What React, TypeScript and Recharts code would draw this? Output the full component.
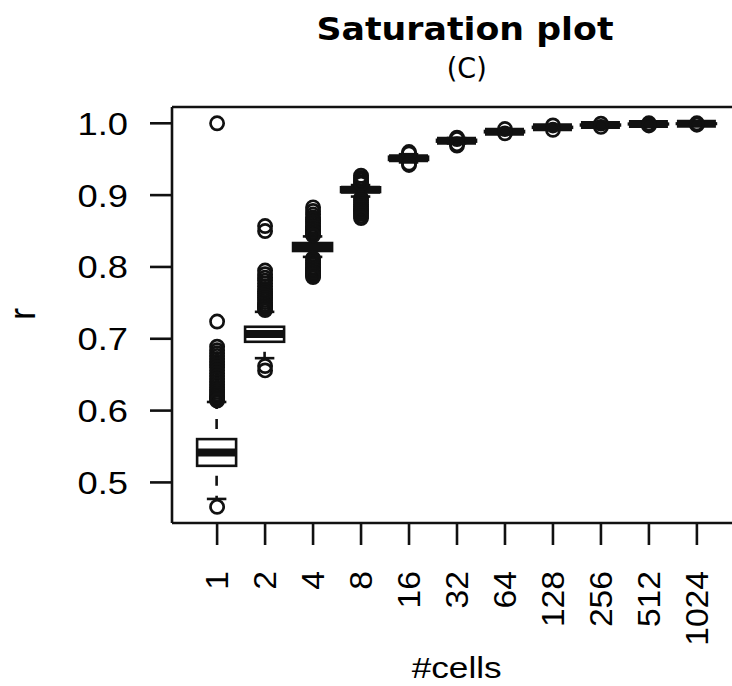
import { ComposedChart, Bar, Scatter, XAxis, YAxis, ReferenceLine } from "recharts"

// number of cells per sample (x categories)
const categories = ["1", "2", "4", "8", "16", "32", "64", "128", "256", "512", "1024"]

// five-number summaries
const lowerWhisker = [0.477, 0.673, 0.814, 0.898, 0.9455, 0.972, 0.986, 0.9925, 0.9962, 0.9978, 0.9988]
const q1 = [0.5231, 0.6958, 0.8222, 0.9043, 0.949, 0.9745, 0.9875, 0.9937, 0.997, 0.9985, 0.9992]
const median = [0.5415, 0.7065, 0.8278, 0.9076, 0.9513, 0.9758, 0.9883, 0.9944, 0.9976, 0.999, 0.9995]
const q3 = [0.5603, 0.7167, 0.8333, 0.9109, 0.9535, 0.977, 0.9893, 0.995, 0.9982, 0.9995, 0.9998]
const upperWhisker = [0.612, 0.7375, 0.8425, 0.914, 0.957, 0.9795, 0.991, 0.9962, 0.999, 1.0, 1.0]

// outliers per category
const outliers = [
  [1.0, 0.724, 0.689, 0.684, 0.68, 0.676, 0.672, 0.668, 0.664, 0.66, 0.656, 0.652, 0.648, 0.644,
    0.64, 0.636, 0.632, 0.629, 0.626, 0.623, 0.62, 0.618, 0.616, 0.614, 0.466],
  [0.857, 0.85, 0.795, 0.79, 0.785, 0.781, 0.777, 0.773, 0.769, 0.766, 0.763, 0.76, 0.757, 0.754,
    0.751, 0.748, 0.746, 0.744, 0.742, 0.74, 0.662, 0.656],
  [0.883, 0.878, 0.873, 0.869, 0.866, 0.863, 0.86, 0.857, 0.855, 0.853, 0.851, 0.849, 0.847, 0.845, 0.844,
    0.812, 0.809, 0.806, 0.803, 0.8, 0.798, 0.796, 0.794, 0.792, 0.79, 0.788, 0.786],
  [0.927, 0.924, 0.921, 0.918, 0.916, 0.896, 0.893, 0.89, 0.887, 0.884, 0.881, 0.879, 0.877, 0.874, 0.871, 0.868],
  [0.96, 0.958, 0.944, 0.942],
  [0.98, 0.978, 0.971, 0.969],
  [0.992, 0.986],
  [0.997, 0.991],
  [0.9995, 0.995],
  [1.0, 0.997],
  [1.0, 0.998],
]

const yTicks = [0.5, 0.6, 0.7, 0.8, 0.9, 1.0]
const xTicks = categories.map((_, i) => i + 1)

const Y_MIN = 0.4435
const Y_MAX = 1.0227

const boxRows = categories.map((label, i) => ({
  pos: i + 1,
  label,
  range: [lowerWhisker[i], upperWhisker[i]],
  q1: q1[i],
  median: median[i],
  q3: q3[i],
}))

const outlierPoints = outliers.flatMap((vals, i) => vals.map((v) => ({ pos: i + 1, v })))

const INK = "#111"
const LW = 2.6

function BoxShape(props: any) {
  const { x, y, width, height, payload } = props
  const [lo, hi] = payload.range
  const top = Math.min(y, y + height)
  const h = Math.abs(height)
  const py = (v: number) => top + ((hi - v) / (hi - lo)) * h
  const cx = x + width / 2
  const capHalf = width / 4
  const yq1 = py(payload.q1)
  const yq3 = py(payload.q3)
  const ymed = py(payload.median)
  const ylo = py(lo)
  const yhi = py(hi)
  return (
    <g>
      {/* whiskers */}
      <line x1={cx} x2={cx} y1={yq3} y2={yhi} stroke={INK} strokeWidth={LW} strokeDasharray="10 10" strokeDashoffset={10} />
      <line x1={cx} x2={cx} y1={yq1} y2={ylo} stroke={INK} strokeWidth={LW} strokeDasharray="10 10" strokeDashoffset={10} />
      <line x1={cx - capHalf} x2={cx + capHalf} y1={yhi} y2={yhi} stroke={INK} strokeWidth={LW} />
      <line x1={cx - capHalf} x2={cx + capHalf} y1={ylo} y2={ylo} stroke={INK} strokeWidth={LW} />
      {/* box */}
      <rect x={x} y={yq3} width={width} height={Math.max(yq1 - yq3, 0.5)} fill="#fff" stroke={INK} strokeWidth={LW} />
      <line x1={x} x2={x + width} y1={ymed} y2={ymed} stroke={INK} strokeWidth={8} />
    </g>
  )
}

function OutlierDot(props: any) {
  return <circle cx={props.cx} cy={props.cy} r={6.6} fill="none" stroke={INK} strokeWidth={2.7} />
}

function YTick(props: any) {
  const { x, y, payload } = props
  return (
    <text x={x} y={y} dy="0.37em" textAnchor="end" fontSize={31} fill="#000"
      fontFamily="'Liberation Sans', Arial, sans-serif" textLength={50.5} lengthAdjust="spacingAndGlyphs">
      {payload.value.toFixed(1)}
    </text>
  )
}

function XTick(props: any) {
  const { x, y, payload } = props
  const label = categories[payload.value - 1] ?? ""
  return (
    <text x={x} y={y} dy="0.35em" textAnchor="end" fontSize={31} fill="#000"
      transform={`rotate(-90, ${x}, ${y})`}
      fontFamily="'Liberation Sans', Arial, sans-serif" textLength={label.length * 18.7} lengthAdjust="spacingAndGlyphs">
      {label}
    </text>
  )
}

export default function App() {
  return (
    <div style={{ position: "absolute", left: 0, top: 0, width: 732, height: 686, overflow: "hidden", background: "#fff" }}>
      <ComposedChart width={760} height={686} data={boxRows} margin={{ top: 107, right: 18, bottom: 0, left: 0 }}>
        <XAxis
          dataKey="pos"
          type="number"
          domain={[0.06, 11.94]}
          allowDataOverflow
          ticks={xTicks}
          interval={0}
          height={163}
          tickSize={22}
          tickMargin={26}
          axisLine={{ stroke: INK, strokeWidth: LW }}
          tickLine={{ stroke: INK, strokeWidth: LW }}
          tick={<XTick />}
        />
        <YAxis
          type="number"
          domain={[Y_MIN, Y_MAX]}
          allowDataOverflow
          ticks={yTicks}
          interval={0}
          width={172}
          tickSize={22}
          tickMargin={22}
          axisLine={{ stroke: INK, strokeWidth: LW }}
          tickLine={{ stroke: INK, strokeWidth: LW }}
          tick={<YTick />}
        />
        <ReferenceLine y={Y_MAX} stroke={INK} strokeWidth={LW} />
        <Bar dataKey="range" barSize={39} shape={<BoxShape />} isAnimationActive={false} />
        <Scatter data={outlierPoints} dataKey="v" shape={<OutlierDot />} isAnimationActive={false} />
      </ComposedChart>
      <svg width={732} height={686} style={{ position: "absolute", left: 0, top: 0, pointerEvents: "none" }}>
        <text x={465} y={39.5} textAnchor="middle" fontSize={32} fontWeight="bold"
          fontFamily="'DejaVu Sans', sans-serif" textLength={297} lengthAdjust="spacingAndGlyphs">
          Saturation plot
        </text>
        <text x={466.7} y={77.5} textAnchor="middle" fontSize={28}
          fontFamily="'DejaVu Sans', sans-serif" textLength={40} lengthAdjust="spacingAndGlyphs">
          (C)
        </text>
        <text x={456.7} y={678.3} textAnchor="middle" fontSize={30}
          fontFamily="'Liberation Sans', Arial, sans-serif" textLength={90} lengthAdjust="spacingAndGlyphs">
          #cells
        </text>
        <text x={35} y={314} textAnchor="middle" fontSize={36} transform="rotate(-90, 35, 314)"
          fontFamily="'Liberation Sans', Arial, sans-serif">
          r
        </text>
      </svg>
    </div>
  )
}
